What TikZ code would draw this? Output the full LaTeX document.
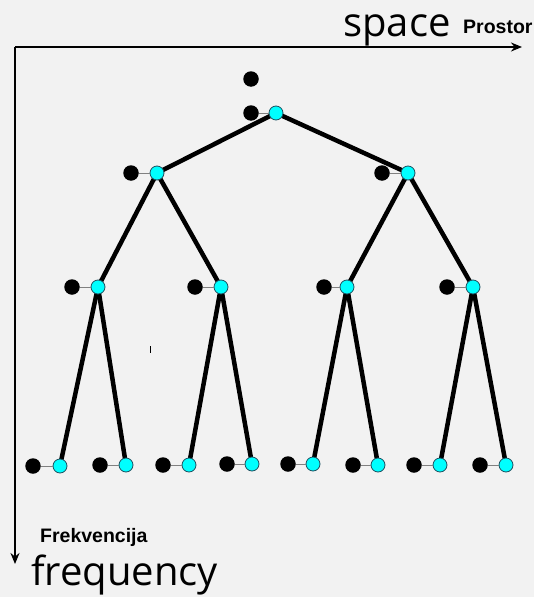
\documentclass[tikz,border=0pt]{standalone}
\usepackage{fontspec}
\newfontfamily\opensans{Open Sans}
\newfontfamily\arialbold[BoldFont={Liberation Sans Bold}]{Liberation Sans}
\usetikzlibrary{arrows.meta}
\definecolor{bgc}{HTML}{F2F2F2}
\definecolor{cyanfill}{HTML}{00FFFF}
\definecolor{cyanline}{HTML}{1F4F5F}
\tikzset{
  bdot/.style={circle,fill=black,inner sep=0pt,minimum size=15.5pt},
  cdot/.style={circle,fill=cyanfill,draw=cyanline,line width=0.8pt,inner sep=0pt,minimum size=14pt},
  link/.style={draw=gray,line width=1pt},
  branch/.style={draw=black,line width=4.5pt},
  axis/.style={draw=black,line width=2pt,-{Stealth[length=11pt,width=9pt]}},
  bigtxt/.style={font=\opensans\fontsize{40}{48}\selectfont,inner sep=0pt,anchor=base west},
  smalltxt/.style={font=\arialbold\bfseries\fontsize{19.5}{22}\selectfont,inner sep=0pt,anchor=base west}
}
\begin{document}
\begin{tikzpicture}[x=1pt,y=-1pt]
\fill[bgc] (0,0) rectangle (534,597);
\useasboundingbox (0,0) rectangle (534,597);
% axes
\coordinate (O) at (15,47);
\coordinate (X) at (522,47);
\coordinate (Y) at (15,564);
\draw[axis] (O) -- (X);
\draw[axis] (O) -- (Y);
\node[bigtxt] (space) at (343,36) {space};
\node[smalltxt] (prostor) at (463,33) {Prostor};
\node[smalltxt] (frek) at (40,542) {Frekvencija};
\node[bigtxt] (freq) at (31,585) {frequency};
% tiny tick
\coordinate (t1) at (150,346);
\coordinate (t2) at (150,353);
\draw[line width=1pt] (t1) -- (t2);
% coordinates of cyan nodes
\coordinate (c0) at (276,113);
\coordinate (c1) at (157,173);
\coordinate (c2) at (408,173);
\coordinate (c3) at (98,287);
\coordinate (c4) at (221,287);
\coordinate (c5) at (347,287);
\coordinate (c6) at (473,287);
\coordinate (c7) at (60,466);
\coordinate (c8) at (126,465);
\coordinate (c9) at (189,465);
\coordinate (c10) at (252,464);
\coordinate (c11) at (313,464);
\coordinate (c12) at (378,465);
\coordinate (c13) at (440,465);
\coordinate (c14) at (506,465);
% branches
\draw[branch] (c0) -- (c1);
\draw[branch] (c0) -- (c2);
\draw[branch] (c1) -- (c3);
\draw[branch] (c1) -- (c4);
\draw[branch] (c2) -- (c5);
\draw[branch] (c2) -- (c6);
\draw[branch] (c3) -- (c7);
\draw[branch] (c3) -- (c8);
\draw[branch] (c4) -- (c9);
\draw[branch] (c4) -- (c10);
\draw[branch] (c5) -- (c11);
\draw[branch] (c5) -- (c12);
\draw[branch] (c6) -- (c13);
\draw[branch] (c6) -- (c14);
% top lone dot
\node[bdot] (top) at (251,79) {};
% pairs
\foreach \i/\bx/\by in {0/251/113,1/131/173,2/382/173,3/72/287,4/195/287,5/324/287,6/447/287,
  7/33/466,8/100/465,9/163/465,10/227/464,11/288/464,12/353/465,13/414/465,14/480/465}{
  \node[bdot] (b\i) at (\bx,\by) {};
  \node[cdot] (n\i) at (c\i) {};
  \draw[link] (b\i) -- (n\i);
}
\end{tikzpicture}
\end{document}
